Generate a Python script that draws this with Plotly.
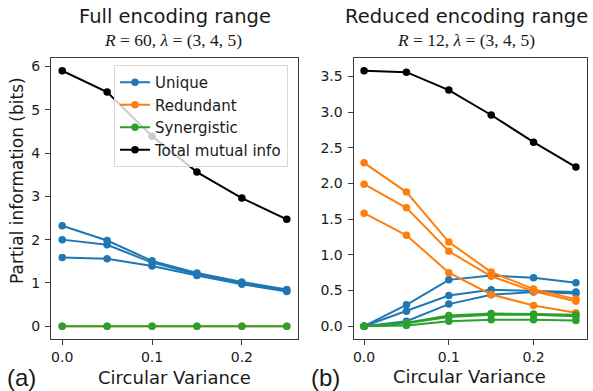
import plotly.graph_objects as go

W, H = 593, 391

cv = [0.0, 0.05, 0.10, 0.15, 0.20, 0.25]

# Panel (a): Full encoding range, R=60
a_unique = [
    [2.32, 1.98, 1.51, 1.23, 1.02, 0.85],
    [2.00, 1.88, 1.47, 1.20, 0.99, 0.82],
    [1.59, 1.56, 1.39, 1.17, 0.97, 0.80],
]
a_redundant = [
    [0.0, 0.0, 0.0, 0.0, 0.0, 0.0],
]
a_synergistic = [
    [0.0, 0.0, 0.0, 0.0, 0.0, 0.0],
]
a_total = [5.90, 5.41, 4.39, 3.56, 2.96, 2.47]

# Panel (b): Reduced encoding range, R=12
b_unique = [
    [0.0, 0.30, 0.65, 0.71, 0.68, 0.61],
    [0.0, 0.21, 0.43, 0.51, 0.50, 0.48],
    [0.0, 0.07, 0.31, 0.44, 0.48, 0.46],
]
b_redundant = [
    [2.29, 1.88, 1.18, 0.76, 0.52, 0.38],
    [1.99, 1.66, 1.05, 0.70, 0.49, 0.35],
    [1.585, 1.275, 0.75, 0.445, 0.29, 0.19],
]
b_synergistic = [
    [0.0, 0.05, 0.15, 0.18, 0.17, 0.16],
    [0.0, 0.04, 0.13, 0.16, 0.16, 0.14],
    [0.0, 0.01, 0.07, 0.09, 0.09, 0.08],
]
b_total = [3.58, 3.56, 3.31, 2.96, 2.58, 2.23]

names = ["Unique", "Redundant", "Synergistic", "Total mutual info"]
colors = ["#1f77b4", "#ff7f0e", "#2ca02c", "#000000"]

x_ticks = [0.0, 0.1, 0.2]
a_y_ticks = [0, 1, 2, 3, 4, 5, 6]
b_y_ticks = [0.0, 0.5, 1.0, 1.5, 2.0, 2.5, 3.0, 3.5]


def px_x(p):
    return p / W


def px_y(p):
    return 1 - p / H


fig = go.Figure()


def add_panel(groups, xa, ya, legend):
    for gi, series_list in enumerate(groups):
        for si, ys in enumerate(series_list):
            fig.add_trace(go.Scatter(
                x=cv, y=ys, mode="lines+markers",
                name=names[gi], legendgroup=names[gi],
                showlegend=legend and si == 0,
                line=dict(color=colors[gi], width=2),
                marker=dict(color=colors[gi], size=7.5),
                xaxis=xa, yaxis=ya,
            ))


add_panel([a_unique, a_redundant, a_synergistic, [a_total]], "x", "y", True)
add_panel([b_unique, b_redundant, b_synergistic, [b_total]], "x2", "y2", False)

font_main = "DejaVu Sans"
axis_common = dict(
    showline=True, mirror=True, linecolor="#3a3a3a", linewidth=1,
    ticks="outside", ticklen=5, tickwidth=1, tickcolor="#3a3a3a",
    showgrid=False, zeroline=False,
    tickfont=dict(family=font_main, size=14, color="#1a1a1a"),
)

ytop, ybot = 58, 339
fig.update_layout(
    width=W, height=H,
    margin=dict(l=0, r=0, t=0, b=0),
    paper_bgcolor="white", plot_bgcolor="white",
    font=dict(family=font_main, color="#1a1a1a"),
    xaxis=dict(domain=[px_x(51), px_x(298)], range=[-0.0125, 0.2625],
               tickvals=x_ticks, tickformat=".1f", anchor="y",
               ticklabelstandoff=0, **axis_common),
    yaxis=dict(domain=[px_y(ybot), px_y(ytop)], range=[-0.295, 6.195],
               tickvals=a_y_ticks, anchor="x", ticklabelstandoff=2, **axis_common),
    xaxis2=dict(domain=[px_x(353.5), px_x(586.5)], range=[-0.0125, 0.2625],
                tickvals=x_ticks, tickformat=".1f", anchor="y2",
                ticklabelstandoff=0, **axis_common),
    yaxis2=dict(domain=[px_y(ybot), px_y(ytop)], range=[-0.179, 3.759],
                tickvals=b_y_ticks, tickformat=".1f", anchor="x2",
                ticklabelstandoff=2, **axis_common),
    showlegend=True,
    legend=dict(
        x=px_x(114), y=px_y(65), xanchor="left", yanchor="top",
        bgcolor="rgba(255,255,255,0.8)", bordercolor="#d8d8d8", borderwidth=1,
        font=dict(family=font_main, size=15, color="#1a1a1a"),
        itemwidth=30, tracegroupgap=0,
    ),
)

ann = []
def text(x, y, s, size, family=font_main, angle=0):
    ann.append(dict(x=px_x(x), y=px_y(y), xref="paper", yref="paper",
                    text=s, showarrow=False, textangle=angle,
                    xanchor="center", yanchor="middle",
                    font=dict(family=family, size=size, color="#1a1a1a")))

text(175, 17, "Full encoding range", 19.5)
text(173, 40, "<i>R</i> = 60, <i>λ</i> = (3, 4, 5)", 17.5, family="Liberation Serif")
text(466, 17, "Reduced encoding range", 19.5)
text(466, 40, "<i>R</i> = 12, <i>λ</i> = (3, 4, 5)", 17.5, family="Liberation Serif")
text(174, 377, "Circular Variance", 18)
text(469, 376, "Circular Variance", 18)
text(17, 181, "Partial information (bits)", 17, angle=-90)
text(21, 377, "(a)", 24, family="Liberation Sans")
text(325, 377, "(b)", 24, family="Liberation Sans")
fig.update_layout(annotations=ann)

fig.write_html(
    "out.html",
    config={"displayModeBar": False},
    post_script="document.body.style.margin='0';document.body.style.padding='0';",
)
